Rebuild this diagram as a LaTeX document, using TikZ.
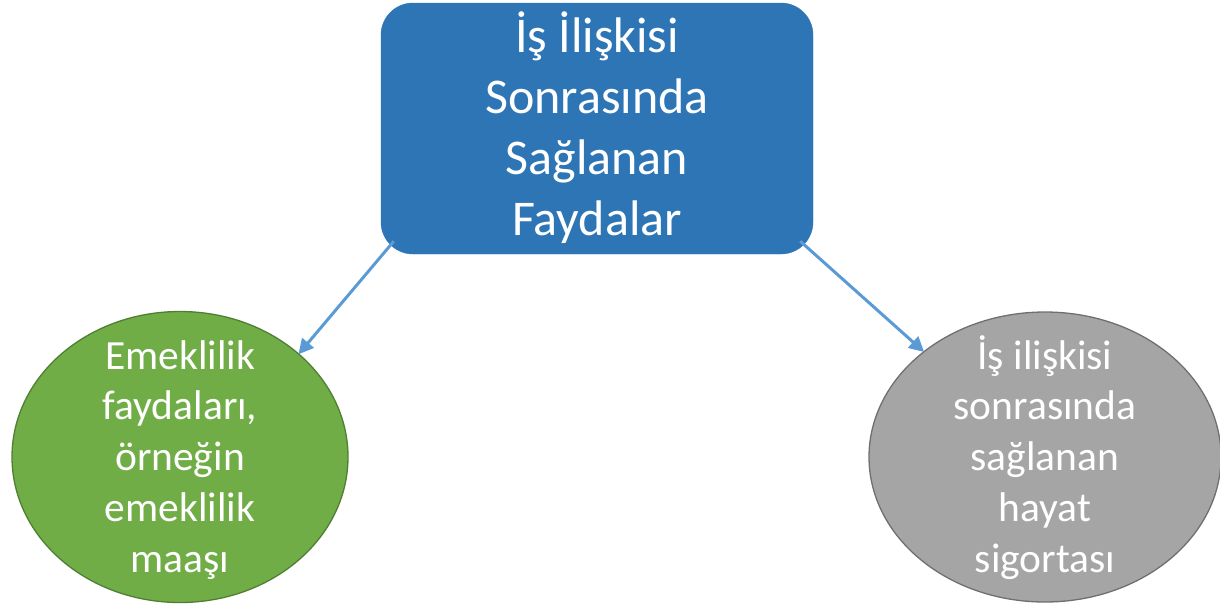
\documentclass[tikz,border=0pt]{standalone}
\usepackage{fontspec}
\setmainfont{Carlito}
\usetikzlibrary{shapes.geometric,arrows.meta,calc}
\definecolor{boxblue}{HTML}{2E75B6}
\definecolor{arrowblue}{HTML}{5B9BD5}
\definecolor{leafgreen}{HTML}{70AD47}
\definecolor{leafgreenline}{HTML}{507E32}
\definecolor{leafgray}{HTML}{A5A5A5}
\definecolor{leafgrayline}{HTML}{6F6F6F}
\newcommand{\lines}[1]{\begin{tabular}[t]{@{}c@{}}#1\end{tabular}}
\tikzset{
  x=1pt, y=-1pt,
  topbox/.style={rectangle, rounded corners=32pt, fill=boxblue, draw=boxblue,
    minimum width=432pt, minimum height=251pt, inner sep=0pt, text=white,
    font=\fontsize{50}{61}\selectfont, text height=0pt, text depth=152pt},
  leaf/.style={ellipse, inner sep=0pt, line width=1.3pt, text=white,
    font=\fontsize{41.5}{50.75}\selectfont, text height=0pt, text depth=176pt},
  conn/.style={draw=arrowblue, line width=3pt,
    -{Triangle[length=15pt, width=15pt]}, shorten >=-1pt}
}
\begin{document}
\begin{tikzpicture}
\useasboundingbox (0,0) rectangle (1220,606);
\node[topbox] (box) at (597,128.5) {\lines{İş İlişkisi\\Sonrasında\\Sağlanan\\Faydalar}};
\node[leaf, fill=leafgreen, draw=leafgreenline, minimum width=336pt, minimum height=291pt]
  (green) at (180,457) {\lines{Emeklilik\\faydaları,\\örneğin\\emeklilik\\maaşı}};
\node[leaf, fill=leafgray, draw=leafgrayline, minimum width=352pt, minimum height=290pt]
  (gray) at (1045,457) {\lines{İş ilişkisi\\sonrasında\\sağlanan\\hayat\\sigortası}};
\coordinate (s1) at ($(box.south west)+(13,-13)$);
\coordinate (s2) at ($(box.south east)+(-13,-13)$);
\draw[conn] (s1) -- (green.41.4);
\draw[conn] (s2) -- (gray.139.5);
\end{tikzpicture}
\end{document}
